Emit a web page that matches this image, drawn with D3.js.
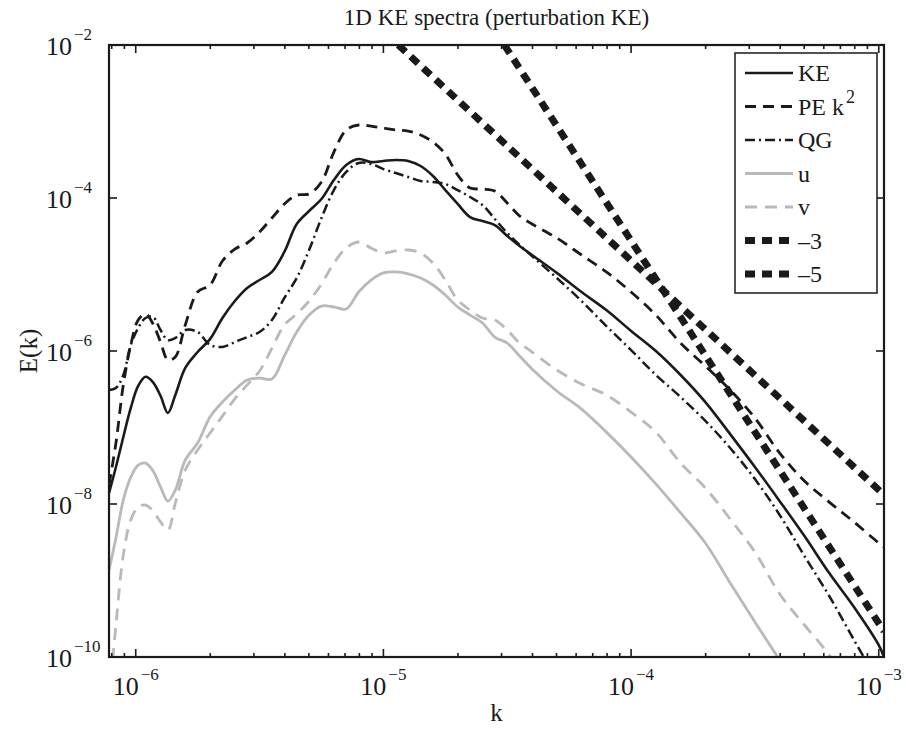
<!DOCTYPE html>
<html>
<head>
<meta charset="utf-8">
<script src="https://cdn.jsdelivr.net/npm/d3@7"></script>
<style>
body { margin: 0; background: #fff; }
text { font-family: "Liberation Serif", "Times New Roman", serif; fill: #1a1a1a; }
</style>
</head>
<body>
<svg id="chart" width="906" height="730"></svg>
<script>
// wavenumber grid shared by all spectra
const kGrid = [7.8e-7, 8.32e-7, 8.91e-7, 9.55e-7, 1.023e-6, 1.096e-6, 1.175e-6, 1.259e-6, 1.349e-6, 1.445e-6,
    1.585e-6, 1.778e-6, 1.995e-6, 2.239e-6, 2.512e-6, 2.818e-6, 3.162e-6, 3.548e-6, 3.981e-6, 4.467e-6,
    5.012e-6, 5.623e-6, 6.31e-6, 7.079e-6, 7.943e-6, 8.913e-6, 1.0e-5, 1.122e-5, 1.259e-5, 1.413e-5,
    1.585e-5, 1.778e-5, 1.995e-5, 2.239e-5, 2.512e-5, 2.818e-5, 3.162e-5, 3.548e-5, 3.981e-5, 5.012e-5,
    6.31e-5, 7.943e-5, 1.0e-4, 1.259e-4, 1.585e-4, 1.995e-4, 2.512e-4, 3.162e-4, 3.981e-4, 5.012e-4,
    6.31e-4, 7.943e-4, 1.0e-3, 1.05e-3];

const keE = [1.39e-8, 3.05e-8, 7.5e-8, 1.8e-7, 3.5e-7, 4.6e-7, 3.9e-7, 2.6e-7, 1.55e-7, 2.66e-7,
    6.0e-7, 9.7e-7, 1.43e-6, 2.7e-6, 4.5e-6, 6.67e-6, 8.47e-6, 1.08e-5, 1.97e-5, 4.57e-5,
    6.77e-5, 9.7e-5, 1.72e-4, 2.7e-4, 3.23e-4, 2.95e-4, 3.05e-4, 3.14e-4, 3.05e-4, 2.62e-4,
    1.94e-4, 1.27e-4, 8.36e-5, 5.64e-5, 5.0e-5, 4.43e-5, 3.19e-5, 2.36e-5, 1.8e-5, 1.05e-5,
    5.91e-6, 3.43e-6, 1.83e-6, 1.0e-6, 4.86e-7, 2.15e-7, 8.2e-8, 3.05e-8, 1.09e-8, 3.81e-9,
    1.25e-9, 4.5e-10, 1.43e-10, 1.0e-10];

const peE = [1.77e-8, 6.27e-8, 3.6e-7, 1.2e-6, 2.54e-6, 3.05e-6, 2.25e-6, 1.31e-6, 7.64e-7, 8.36e-7,
    2.19e-6, 5.91e-6, 7.29e-6, 1.5e-5, 2.15e-5, 2.58e-5, 3.6e-5, 5.48e-5, 8.36e-5, 1.09e-4,
    1.13e-4, 1.62e-4, 3.99e-4, 7.76e-4, 9.0e-4, 8.7e-4, 8.2e-4, 7.76e-4, 7.5e-4, 6.66e-4,
    5.39e-4, 3.76e-4, 2.0e-4, 1.35e-4, 1.31e-4, 1.23e-4, 8.6e-5, 5.82e-5, 4.57e-5, 3.0e-5,
    1.8e-5, 1.08e-5, 5.91e-6, 2.95e-6, 1.27e-6, 6.36e-7, 3.09e-7, 1.33e-7, 4.64e-8, 2.0e-8,
    1.06e-8, 5.82e-9, 3.09e-9, 2.74e-9];

const qgE = [3.09e-7, 3.28e-7, 4.86e-7, 1.2e-6, 2.0e-6, 2.7e-6, 2.78e-6, 1.88e-6, 1.39e-6, 1.48e-6,
    1.88e-6, 1.77e-6, 1.2e-6, 1.13e-6, 1.31e-6, 1.52e-6, 1.77e-6, 2.54e-6, 4.93e-6, 9.0e-6,
    2.09e-5, 5.48e-5, 1.27e-4, 2.19e-4, 2.87e-4, 2.78e-4, 2.39e-4, 2.12e-4, 1.88e-4, 1.67e-4,
    1.62e-4, 1.52e-4, 1.27e-4, 1.03e-4, 8.1e-5, 5.32e-5, 3.49e-5, 2.43e-5, 1.74e-5, 9.0e-6,
    4.5e-6, 2.12e-6, 1.03e-6, 4.86e-7, 2.5e-7, 1.22e-7, 5.39e-8, 2.12e-8, 7.19e-9, 2.09e-9,
    6.27e-10, 1.67e-10, 4.6e-11, null];

const uE = [1.37e-9, 3.6e-9, 1.13e-8, 2.25e-8, 3.23e-8, 3.43e-8, 2.7e-8, 1.67e-8, 1.09e-8, 1.52e-8,
    3.76e-8, 6.27e-8, 1.37e-7, 2.15e-7, 3.09e-7, 4.18e-7, 4.43e-7, 4.3e-7, 8.6e-7, 1.77e-6,
    2.95e-6, 3.87e-6, 3.76e-6, 3.54e-6, 5.91e-6, 8.47e-6, 1.05e-5, 1.08e-5, 1.02e-5, 9.0e-6,
    7.29e-6, 5.39e-6, 3.76e-6, 2.95e-6, 2.32e-6, 1.52e-6, 1.27e-6, 8.6e-7, 5.82e-7, 3.0e-7,
    1.74e-7, 8.7e-8, 4.12e-8, 1.83e-8, 7.64e-9, 3.09e-9, 9.27e-10, 2.87e-10, 9.13e-11, null,
    null, null, null, null];

const vE = [2.74e-11, 2.62e-10, 2.15e-9, 6.18e-9, 9.13e-9, 9.7e-9, 8.1e-9, 5.82e-9, 4.57e-9, 1.03e-8,
    2.78e-8, 5.08e-8, 8.47e-8, 1.41e-7, 2.36e-7, 3.6e-7, 5.48e-7, 1.09e-6, 2.19e-6, 3.05e-6,
    4.5e-6, 7.5e-6, 1.41e-5, 2.22e-5, 2.66e-5, 2.22e-5, 1.91e-5, 2.03e-5, 2.09e-5, 1.91e-5,
    1.41e-5, 8.47e-6, 4.64e-6, 3.43e-6, 2.7e-6, 2.54e-6, 1.88e-6, 1.27e-6, 9.7e-7, 5.64e-7,
    3.7e-7, 2.66e-7, 1.59e-7, 8.7e-8, 3.43e-8, 1.62e-8, 6.36e-9, 2.36e-9, 6.66e-10, 2.62e-10,
    1.06e-10, 3.19e-11, null, null];

// reference power-law lines (end points)
const slope3K = [1.148e-5, 1.05e-3];
const slope3E = [1e-2, 1.32e-8];
const slope5K = [3.08e-5, 1.05e-3];
const slope5E = [1e-2, 2.16e-10];

const legendLabels = ["KE", "PE k", "QG", "u", "v", "\u20133", "\u20135"];

let svg = d3.select("#chart");
let x0 = 109, x1 = 884, y0 = 45, y1 = 657;
let ink = "#1a1a1a", grey = "#b9b9b9";

let x = d3.scaleLog().domain([7.8e-7, 1.05e-3]).range([x0, x1]);
let y = d3.scaleLog().domain([1e-10, 1e-2]).range([y1, y0]);

svg.append("defs").append("clipPath").attr("id", "plotclip")
    .append("rect")
    .attr("x", x0).attr("y", y0)
    .attr("width", x1 - x0).attr("height", y1 - y0);

let series = [
    {k: kGrid, E: keE, color: ink, width: 2.6, dash: null, curve: true},
    {k: kGrid, E: peE, color: ink, width: 2.8, dash: "11,7", curve: true},
    {k: kGrid, E: qgE, color: ink, width: 2.5, dash: "10,4,2,4", curve: true},
    {k: kGrid, E: uE, color: grey, width: 2.8, dash: null, curve: true},
    {k: kGrid, E: vE, color: grey, width: 2.8, dash: "12,8", curve: true},
    {k: slope3K, E: slope3E, color: ink, width: 7, dash: "10,7", curve: false},
    {k: slope5K, E: slope5E, color: ink, width: 7, dash: "10,7", curve: false}
];

let plot = svg.append("g").attr("clip-path", "url(#plotclip)");

series.forEach(function(s) {
    let pts = s.k.map(function(k, i) { return [k, s.E[i]]; });
    let line = d3.line()
        .defined(function(d) { return d[1] != null; })
        .x(function(d) { return x(d[0]); })
        .y(function(d) { return y(d[1]); })
        .curve(s.curve ? d3.curveCatmullRom.alpha(0.5) : d3.curveLinear);
    plot.append("path")
        .attr("d", line(pts))
        .attr("fill", "none")
        .attr("stroke", s.color)
        .attr("stroke-width", s.width)
        .attr("stroke-dasharray", s.dash)
        .attr("stroke-linejoin", "round");
});

// axes box
svg.append("rect")
    .attr("x", x0).attr("y", y0)
    .attr("width", x1 - x0).attr("height", y1 - y0)
    .attr("fill", "none").attr("stroke", ink).attr("stroke-width", 2.2);

function isDecade(v) {
    let l = Math.log10(v);
    return Math.abs(l - Math.round(l)) < 1e-6;
}

// x ticks (top and bottom)
let ticks = svg.append("g").attr("stroke", ink).attr("stroke-width", 1.6);
x.ticks().forEach(function(v) {
    let px = x(v);
    let len = isDecade(v) ? 8 : 4;
    ticks.append("line").attr("x1", px).attr("x2", px).attr("y1", y1).attr("y2", y1 - len);
    ticks.append("line").attr("x1", px).attr("x2", px).attr("y1", y0).attr("y2", y0 + len);
    if (isDecade(v)) {
        let t = svg.append("text")
            .attr("x", px).attr("y", 695)
            .attr("text-anchor", "middle");
        t.append("tspan").style("font-size", "26px").text("10");
        t.append("tspan").style("font-size", "17px").attr("dx", 2).attr("dy", -15)
            .text("\u2212" + (-Math.round(Math.log10(v))));
    }
});

// y ticks every second decade (left and right)
y.ticks().filter(function(v) {
    return isDecade(v) && Math.round(Math.log10(v)) % 2 === 0;
}).forEach(function(v) {
    let py = y(v);
    ticks.append("line").attr("x1", x0).attr("x2", x0 + 8).attr("y1", py).attr("y2", py);
    ticks.append("line").attr("x1", x1).attr("x2", x1 - 8).attr("y1", py).attr("y2", py);
    let t = svg.append("text").attr("x", 46).attr("y", py + 10);
    t.append("tspan").style("font-size", "26px").text("10");
    t.append("tspan").style("font-size", "17px").attr("dx", 2).attr("dy", -15)
        .text("\u2212" + (-Math.round(Math.log10(v))));
});

// title and axis labels
svg.append("text")
    .attr("x", (x0 + x1) / 2).attr("y", 25)
    .attr("text-anchor", "middle")
    .style("font-size", "23px")
    .text("1D KE spectra (perturbation KE)");

svg.append("text")
    .attr("x", (x0 + x1) / 2).attr("y", 721)
    .attr("text-anchor", "middle")
    .style("font-size", "25px")
    .text("k");

svg.append("text")
    .attr("transform", "translate(37," + ((y0 + y1) / 2) + ") rotate(-90)")
    .attr("text-anchor", "middle")
    .style("font-size", "25px")
    .text("E(k)");

// legend
let lg = svg.append("g");
lg.append("rect")
    .attr("x", 735).attr("y", 53).attr("width", 142).attr("height", 240)
    .attr("fill", "#fff").attr("stroke", ink).attr("stroke-width", 1.5);

series.forEach(function(s, i) {
    let ly = 73 + i * 33.5;
    lg.append("line")
        .attr("x1", 745).attr("x2", 793).attr("y1", ly).attr("y2", ly)
        .attr("stroke", s.color)
        .attr("stroke-width", s.width)
        .attr("stroke-dasharray", s.dash);
    let t = lg.append("text")
        .attr("x", 798).attr("y", ly + 8)
        .style("font-size", "24px")
        .text(legendLabels[i]);
    if (i === 1) {
        t.append("tspan").style("font-size", "18px").attr("dx", 2).attr("dy", -12).text("2");
    }
});
</script>
</body>
</html>
